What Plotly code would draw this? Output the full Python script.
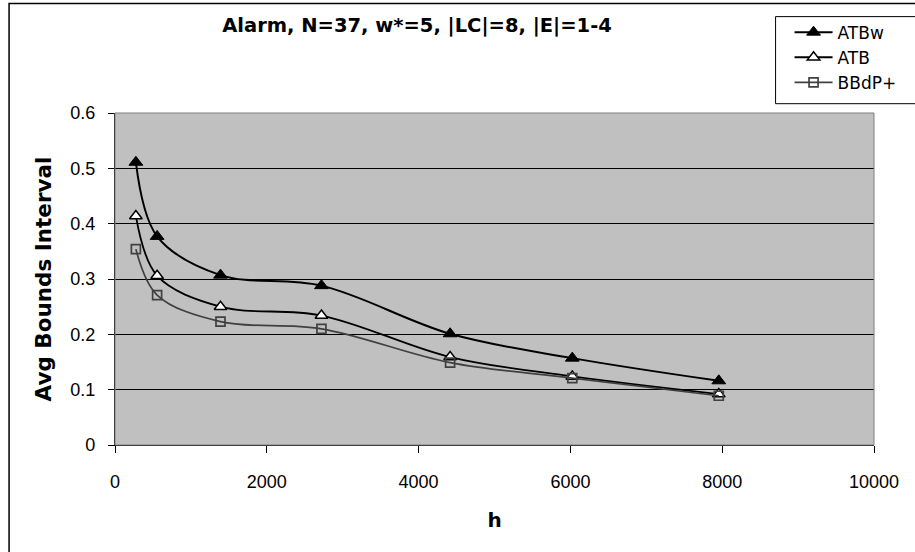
import plotly.graph_objects as go

# Heuristic budget h and the average bounds interval of each scheme
h_values = [275, 555, 1390, 2720, 4415, 6025, 7955]
atbw = [0.511, 0.377, 0.307, 0.288, 0.201, 0.157, 0.116]
atb = [0.414, 0.306, 0.250, 0.234, 0.159, 0.124, 0.092]
bbdp = [0.354, 0.271, 0.223, 0.210, 0.149, 0.121, 0.089]

x_ticks = [0, 2000, 4000, 6000, 8000, 10000]
y_ticks = [0, 0.1, 0.2, 0.3, 0.4, 0.5, 0.6]

W, H = 915, 552
L, R, T, B = 115, 40.5, 113.3, 107
WIDE_FONT = "DejaVu Sans, Arial, sans-serif"
FONT = "Liberation Sans, Arial, sans-serif"

fig = go.Figure()

fig.add_trace(go.Scatter(
    x=h_values, y=atbw, name="ATBw", mode="lines+markers",
    line=dict(color="black", width=2, shape="spline", smoothing=1.0),
    marker=dict(symbol="triangle-up", size=12, color="black",
                line=dict(color="black", width=1)),
))
fig.add_trace(go.Scatter(
    x=h_values, y=atb, name="ATB", mode="lines+markers",
    line=dict(color="black", width=1.8, shape="spline", smoothing=1.0),
    marker=dict(symbol="triangle-up", size=11, color="white",
                line=dict(color="black", width=1.5)),
))
fig.add_trace(go.Scatter(
    x=h_values, y=bbdp, name="BBdP+", mode="lines+markers",
    line=dict(color="#404040", width=1.7, shape="spline", smoothing=1.0),
    marker=dict(symbol="square-open", size=9, color="#404040",
                line=dict(width=1.7)),
))

pw = W - L - R
ph = H - T - B


def px_x(p):
    return (p - L) / pw


def px_y(p):
    return (H - B - p) / ph


shapes = [
    # outer chart frame
    dict(type="rect", xref="paper", yref="paper",
         x0=px_x(9), x1=px_x(930), y0=px_y(570), y1=px_y(4),
         line=dict(color="black", width=1.5), layer="below"),
    # plot area frame
    dict(type="rect", xref="paper", yref="paper",
         x0=0, x1=1, y0=0, y1=1,
         line=dict(color="#808080", width=1), layer="above"),
    # legend frame
    dict(type="rect", xref="paper", yref="paper",
         x0=px_x(776), x1=px_x(930), y0=px_y(104), y1=px_y(17),
         line=dict(color="black", width=1), fillcolor="white", layer="below"),
]

fig.update_layout(
    width=W, height=H,
    margin=dict(l=L, r=R, t=T, b=B, pad=0),
    paper_bgcolor="white",
    plot_bgcolor="#C0C0C0",
    font=dict(family=FONT, color="black", size=18),
    title=dict(
        text="<b>Alarm, N=37, w*=5, |LC|=8, |E|=1-4</b>",
        font=dict(family=WIDE_FONT, size=19.5, color="black"),
        x=417 / W, xanchor="center",
        y=1 - 25 / H, yanchor="middle",
    ),
    shapes=shapes,
    showlegend=True,
    legend=dict(
        x=px_x(790), y=px_y(15), xanchor="left", yanchor="top",
        bgcolor="rgba(0,0,0,0)", borderwidth=0,
        font=dict(family=WIDE_FONT, size=17, color="black"),
        tracegroupgap=0, itemwidth=38,
    ),
    xaxis=dict(
        range=[0, 10000], tickvals=x_ticks,
        ticktext=[str(v) for v in x_ticks],
        showgrid=False, zeroline=False,
        showline=True, linecolor="black", linewidth=1.2,
        ticks="outside", ticklen=7, tickcolor="black", tickwidth=1,
        ticklabelstandoff=13,
        tickfont=dict(family=FONT, size=18),
        title=dict(text="<b>h</b>", font=dict(family=WIDE_FONT, size=20),
                   standoff=22),
    ),
    yaxis=dict(
        range=[0, 0.6], tickvals=y_ticks,
        ticktext=["0" if v == 0 else f"{v:.1f}" for v in y_ticks],
        showgrid=True, gridcolor="black", gridwidth=1,
        zeroline=False,
        showline=True, linecolor="black", linewidth=1.2,
        ticks="outside", ticklen=6, tickcolor="black", tickwidth=1,
        ticklabelstandoff=9,
        tickfont=dict(family=FONT, size=18),
        title=dict(text="<b>Avg Bounds Interval</b>",
                   font=dict(family=WIDE_FONT, size=21.5), standoff=12),
    ),
)

fig.write_html("out.html")
